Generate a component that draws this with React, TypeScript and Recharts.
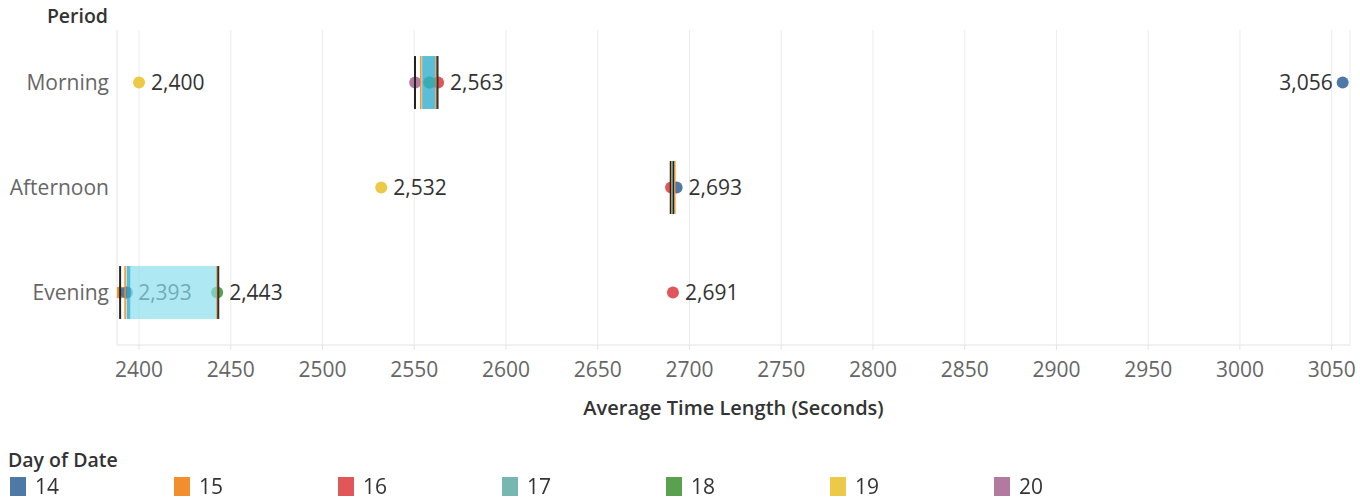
import React from "react";
import {
  ScatterChart, Scatter, XAxis, YAxis, CartesianGrid, ReferenceArea, ReferenceLine, LabelList,
} from "recharts";

const periods = ["Morning", "Afternoon", "Evening"];
const days = [14, 15, 16, 17, 18, 19, 20];
const dayColors = ["#4e79a7", "#f28e2b", "#e15759", "#76b7b2", "#59a14f", "#edc948", "#b07aa1"];

// average seconds per day, ordered like periods (Morning, Afternoon, Evening)
const day14 = [3056, 2693, 2393];
const day15 = [null, null, 2389.6];
const day16 = [2563, 2690, 2691];
const day17 = [2558, null, 2393.5];
const day18 = [2558.5, null, 2442.6];
const day19 = [2400, 2532, null];
const day20 = [2550.5, null, null];
const dayValues = [day14, day15, day16, day17, day18, day19, day20];

// which marks carry a text label
const labeled = ["14-Morning", "14-Afternoon", "14-Evening", "16-Morning", "16-Evening", "18-Evening", "19-Morning", "19-Afternoon"];
const labelLeft = ["14-Morning"];

// reference bands and lines per period
const bands = [
  { period: "Morning", from: 2554.3, to: 2561.6, color: "#32aecc", opacity: 0.8 },
  { period: "Evening", from: 2393.2, to: 2395.4, color: "#32aecc", opacity: 0.8 },
  { period: "Evening", from: 2395.4, to: 2442.6, color: "#8bdeec", opacity: 0.7 },
];
const refLines = [
  { period: "Morning", value: 2550.4, color: "#222" },
  { period: "Morning", value: 2553.6, color: "#f28e2b" },
  { period: "Morning", value: 2562.0, color: "#f28e2b" },
  { period: "Morning", value: 2562.7, color: "#333" },
  { period: "Afternoon", value: 2689.8, color: "#222" },
  { period: "Afternoon", value: 2690.4, color: "#f28e2b" },
  { period: "Afternoon", value: 2690.9, color: "#4aa9c4" },
  { period: "Afternoon", value: 2691.5, color: "#222" },
  { period: "Afternoon", value: 2692.0, color: "#f28e2b" },
  { period: "Evening", value: 2389.7, color: "#222" },
  { period: "Evening", value: 2392.4, color: "#f28e2b" },
  { period: "Evening", value: 2442.6, color: "#f28e2b" },
  { period: "Evening", value: 2443.2, color: "#333" },
];

const xTicks = [2400, 2450, 2500, 2550, 2600, 2650, 2700, 2750, 2800, 2850, 2900, 2950, 3000, 3050];

const FONT = "'Open Sans', sans-serif";
const HALF = 0.252;

const fmt = (v: number) => Math.round(v).toLocaleString("en-US");

function seriesFor(di: number) {
  const day = days[di];
  return dayValues[di]
    .map((v, pi) => (v == null ? null : {
      x: v,
      y: pi,
      key: `${day}-${periods[pi]}`,
    }))
    .filter((d) => d !== null) as { x: number; y: number; key: string }[];
}

const renderOrder = [1, 2, 3, 4, 5, 6, 0];

export default function App() {
  return (
    <div style={{ position: "fixed", left: 0, top: 0, width: 1360, height: 498, background: "#fff", fontFamily: FONT }}>
      <ScatterChart width={1360} height={498} margin={{ top: 30, right: 10, bottom: 73, left: 0 }}>
        <CartesianGrid horizontal={false} stroke="#ececec" />
        <XAxis
          type="number"
          dataKey="x"
          domain={[2388, 3060]}
          ticks={xTicks}
          allowDataOverflow
          height={80}
          stroke="#e4e4e4"
          tickSize={5}
          tick={{ fill: "#666", fontSize: 21, fontFamily: FONT }}
          tickMargin={12}
          label={(p: any) => {
            const vb = p.viewBox;
            return (
              <text x={vb.x + vb.width / 2} y={vb.y + 70} textAnchor="middle" fill="#333" fontSize={20} fontWeight={600} fontFamily={FONT}>
                Average Time Length (Seconds)
              </text>
            );
          }}
        />
        <YAxis
          type="number"
          dataKey="y"
          domain={[-0.5, 2.5]}
          reversed
          ticks={[0, 1, 2]}
          tickFormatter={(i: number) => periods[i]}
          width={117}
          tickLine={false}
          stroke="#eeeeee"
          tick={{ fill: "#666", fontSize: 21, fontFamily: FONT }}
          tickMargin={2}
          label={(p: any) => {
            const vb = p.viewBox;
            return (
              <text x={vb.x + vb.width - 9} y={vb.y - 7} textAnchor="end" fill="#333" fontSize={19.5} fontWeight={600} fontFamily={FONT}>
                Period
              </text>
            );
          }}
        />
        {renderOrder.map((di) => (
          <Scatter
            key={days[di]}
            data={seriesFor(di)}
            fill={dayColors[di]}
            isAnimationActive={false}
            shape={(p: any) => <circle cx={p.cx} cy={p.cy} r={6} fill={dayColors[di]} />}
          >
            <LabelList
              dataKey="x"
              content={(p: any) => {
                const item = seriesFor(di)[p.index];
                if (!item || !labeled.includes(item.key)) return null;
                const left = labelLeft.includes(item.key);
                return (
                  <text
                    x={left ? p.x + p.width / 2 - 10 : p.x + p.width / 2 + 12}
                    y={p.y + p.height / 2 + 7.5}
                    textAnchor={left ? "end" : "start"}
                    fill="#333"
                    fontSize={21}
                    fontFamily={FONT}
                  >
                    {fmt(item.x)}
                  </text>
                );
              }}
            />
          </Scatter>
        ))}
        {bands.map((b, i) => {
          const pi = periods.indexOf(b.period);
          return (
            <ReferenceArea
              key={`b${i}`}
              x1={b.from}
              x2={b.to}
              y1={pi - HALF}
              y2={pi + HALF}
              fill={b.color}
              fillOpacity={b.opacity}
              stroke="none"
              zIndex={2100}
              ifOverflow="visible"
            />
          );
        })}
        {refLines.map((l, i) => {
          const pi = periods.indexOf(l.period);
          return (
            <ReferenceLine
              key={`l${i}`}
              segment={[{ x: l.value, y: pi - HALF }, { x: l.value, y: pi + HALF }]}
              stroke={l.color}
              strokeWidth={l.color === "#f28e2b" ? 1.5 : 2}
              zIndex={2200}
              ifOverflow="visible"
            />
          );
        })}
      </ScatterChart>
      <div style={{ position: "absolute", left: 8, top: 446, fontSize: 19.5, fontWeight: 600, color: "#333" }}>Day of Date</div>
      {days.map((d, i) => (
        <div key={d} style={{ position: "absolute", left: 10 + i * 164, top: 474, height: 24, display: "flex", alignItems: "center" }}>
          <div style={{ width: 16, height: 19, background: dayColors[i] }} />
          <span style={{ marginLeft: 9, fontSize: 21, color: "#333" }}>{d}</span>
        </div>
      ))}
    </div>
  );
}
